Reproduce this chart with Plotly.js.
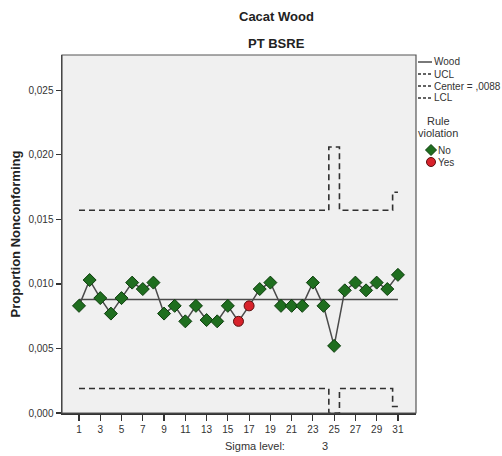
<!DOCTYPE html>
<html>
<head>
<meta charset="utf-8">
<script src="https://cdn.plot.ly/plotly-3.0.1.min.js"></script>
<style>
  html, body { margin: 0; padding: 0; background: #ffffff; }
  #chart { width: 502px; height: 456px; }
</style>
</head>
<body>
<div id="chart"></div>
<script>
// Sample numbers (subgroups) on the x axis
const samples = [1,2,3,4,5,6,7,8,9,10,11,12,13,14,15,16,17,18,19,20,21,22,23,24,25,26,27,28,29,30,31];

// Proportion nonconforming for each sample
const proportion = [0.0083,0.0103,0.0089,0.0077,0.0089,0.0101,0.0096,0.0101,0.0077,0.0083,
                    0.0071,0.0083,0.0072,0.0071,0.0083,0.0071,0.0083,0.0096,0.0101,0.0083,
                    0.0083,0.0083,0.0101,0.0083,0.0052,0.0095,0.0101,0.0095,0.0101,0.0096,0.0107];

// Rule violation flag per sample (No / Yes)
const violation = ["No","No","No","No","No","No","No","No","No","No",
                   "No","No","No","No","No","Yes","Yes","No","No","No",
                   "No","No","No","No","No","No","No","No","No","No","No"];

// Control limits per sample
const ucl = [0.0157,0.0157,0.0157,0.0157,0.0157,0.0157,0.0157,0.0157,0.0157,0.0157,
             0.0157,0.0157,0.0157,0.0157,0.0157,0.0157,0.0157,0.0157,0.0157,0.0157,
             0.0157,0.0157,0.0157,0.0157,0.0206,0.0157,0.0157,0.0157,0.0157,0.0157,0.0171];
const lcl = [0.0019,0.0019,0.0019,0.0019,0.0019,0.0019,0.0019,0.0019,0.0019,0.0019,
             0.0019,0.0019,0.0019,0.0019,0.0019,0.0019,0.0019,0.0019,0.0019,0.0019,
             0.0019,0.0019,0.0019,0.0019,0.0000,0.0019,0.0019,0.0019,0.0019,0.0019,0.0005];
const center = 0.0088;

const xTicks = [1,3,5,7,9,11,13,15,17,19,21,23,25,27,29,31];

const FONT = "Liberation Sans, Arial, sans-serif";
const GREEN = "#1f6e1f", GREEN_EDGE = "#0d3d0d";
const RED = "#d8222b", RED_EDGE = "#5a1010";

const symbols = violation.map(v => v === "Yes" ? "circle" : "diamond");
const fills = violation.map(v => v === "Yes" ? RED : GREEN);
const edges = violation.map(v => v === "Yes" ? RED_EDGE : GREEN_EDGE);

const W = 502, H = 456;
const M = { l: 62, r: 86, t: 55, b: 43 };
const PW = W - M.l - M.r, PH = H - M.t - M.b;
// page pixel -> paper fraction (paper spans the plot area)
const px = v => (v - M.l) / PW;
const py = v => (H - M.b - v) / PH;

const traces = [
  { x: samples, y: ucl, mode: "lines", line: { color: "#303030", width: 1.6, dash: "6px,4px", shape: "hvh" }, hoverinfo: "skip" },
  { x: samples, y: lcl, mode: "lines", line: { color: "#303030", width: 1.6, dash: "6px,4px", shape: "hvh" }, hoverinfo: "skip" },
  { x: [samples[0], samples[samples.length - 1]], y: [center, center], mode: "lines", line: { color: "#4a4a4a", width: 1.5 }, hoverinfo: "skip" },
  { x: samples, y: proportion, mode: "lines+markers",
    line: { color: "#4a4a4a", width: 1.5 },
    marker: { symbol: symbols, color: fills, size: 10, line: { color: edges, width: 1 } } }
];

// Legend rows in the right margin
const legendRows = [
  { y: 62, text: "Wood", dash: "solid" },
  { y: 74, text: "UCL", dash: "dash" },
  { y: 86, text: "Center = ,0088", dash: "dash" },
  { y: 98, text: "LCL", dash: "dash" }
];

const shapes = [
  { type: "rect", xref: "paper", yref: "paper", x0: 0, x1: 1, y0: 0, y1: 1, line: { color: "#555555", width: 1.2 } }
];
const note = (text, x, y, anchor, size, bold) => ({
  text: bold ? "<b>" + text + "</b>" : text, xref: "paper", yref: "paper", x: px(x), y: py(y),
  xanchor: anchor, yanchor: "middle", showarrow: false,
  font: { family: FONT, size: size, color: bold ? "#222" : "#333" }
});
const annotations = [
  note("Cacat Wood", 276, 17, "center", 13, true),
  note("PT BSRE", 276, 44, "center", 13, true),
  note("Sigma level:", 223, 446, "left", 11, false),
  note("3", 325, 446, "center", 11, false),
  note("Rule", 438, 121, "center", 11, false),
  note("violation", 438, 133, "center", 11, false),
  note("No", 436, 150, "left", 10, false),
  note("Yes", 436, 162, "left", 10, false)
];
legendRows.forEach(r => {
  shapes.push({ type: "line", xref: "paper", yref: "paper", x0: px(418), x1: px(432), y0: py(r.y), y1: py(r.y),
                line: { color: "#303030", width: 1.3, dash: r.dash === "solid" ? "solid" : "3px,2px" } });
  annotations.push(note(r.text, 432, r.y, "left", 10, false));
});

// Rule violation legend symbols
const dcx = 431, dcy = 150, dr = 5.5;
shapes.push({ type: "path", xref: "paper", yref: "paper",
  path: "M " + px(dcx) + "," + py(dcy - dr) + " L " + px(dcx + dr) + "," + py(dcy) +
        " L " + px(dcx) + "," + py(dcy + dr) + " L " + px(dcx - dr) + "," + py(dcy) + " Z",
  fillcolor: GREEN, line: { color: GREEN_EDGE, width: 1 } });
const ccx = 431, ccy = 162, cr = 4.5;
shapes.push({ type: "circle", xref: "paper", yref: "paper",
  x0: px(ccx - cr), x1: px(ccx + cr), y0: py(ccy + cr), y1: py(ccy - cr),
  fillcolor: RED, line: { color: RED_EDGE, width: 1 } });

const layout = {
  width: W, height: H,
  margin: { l: M.l, r: M.r, t: M.t, b: M.b, pad: 0 },
  paper_bgcolor: "#ffffff",
  plot_bgcolor: "#f0f0f0",
  showlegend: false,
  separators: ",.",
  font: { family: FONT, size: 10, color: "#333" },
  xaxis: {
    range: [-0.6, 32.7], tickvals: xTicks, ticktext: xTicks.map(String),
    ticks: "outside", ticklen: 6, tickcolor: "#333", tickwidth: 1.2,
    showgrid: false, zeroline: false, showline: true, linecolor: "#333", linewidth: 1.5,
    tickfont: { family: FONT, size: 10, color: "#333" }
  },
  yaxis: {
    range: [0, 0.02773], tickvals: [0, 0.005, 0.01, 0.015, 0.02, 0.025], tickformat: ".3f",
    ticks: "outside", ticklen: 5, tickcolor: "#333", tickwidth: 1.2,
    showgrid: false, zeroline: false, showline: true, linecolor: "#333", linewidth: 1.5,
    tickfont: { family: FONT, size: 10, color: "#333" },
    title: { text: "<b>Proportion Nonconforming</b>", font: { family: FONT, size: 13, color: "#222" }, standoff: 5 }
  },
  shapes: shapes,
  annotations: annotations
};

Plotly.newPlot("chart", traces, layout, { displayModeBar: false, staticPlot: true });
</script>
</body>
</html>
